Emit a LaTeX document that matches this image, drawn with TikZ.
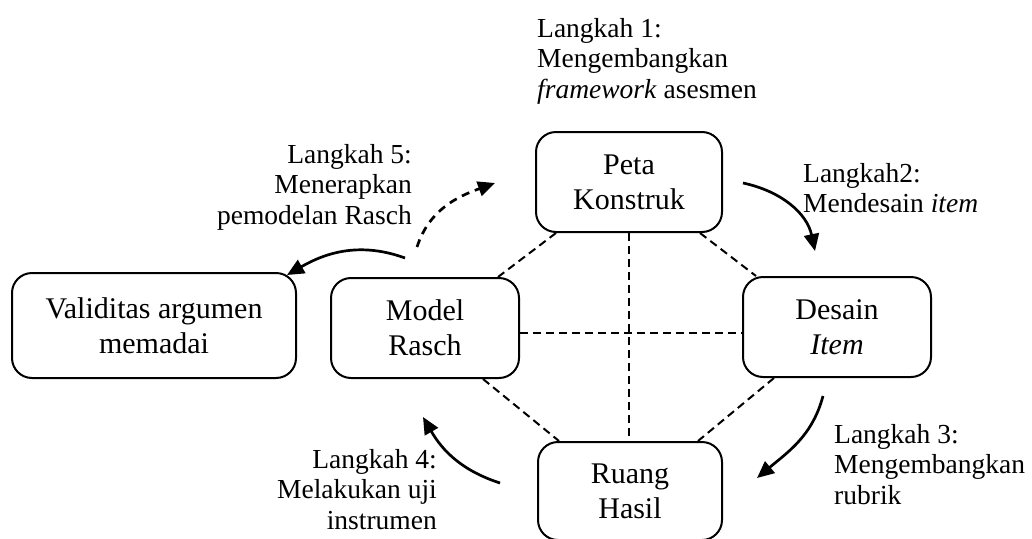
\documentclass[tikz,border=0pt]{standalone}
\usepackage{fontspec}
\setmainfont{Liberation Serif}
\usetikzlibrary{arrows.meta}
\begin{document}
\begin{tikzpicture}[x=1pt,y=-1pt,
  box/.style={draw, line width=2pt, rounded corners=20pt, minimum width=187pt, minimum height=100pt, inner sep=0pt, align=center, font=\fontsize{30}{35}\selectfont},
  note/.style={inner sep=0pt, font=\fontsize{27.5}{30.5}\selectfont},
  link/.style={line width=2pt, dash pattern=on 8pt off 5pt},
  flow/.style={line width=2.7pt, -{Triangle[length=17pt,width=15pt]}},
  dflow/.style={flow, dash pattern=on 8pt off 6pt},
]
\useasboundingbox (0,0) rectangle (1032,538);

% boxes
\node[box, minimum width=186pt] (peta) at (629,182) {Peta\\Konstruk};
\node[box, minimum width=188pt] (model) at (425,328) {Model\\Rasch};
\node[box, minimum width=188pt] (desain) at (837,327) {Desain\\\textit{Item}};
\node[box, minimum width=184pt, minimum height=98pt] (ruang) at (630,491) {Ruang\\Hasil};
\node[box, minimum width=284pt, minimum height=105pt] (valid) at (154,325.5) {Validitas argumen\\memadai};

% dashed links
\draw[link] (peta.south) -- (peta.south |- ruang.north);
\draw[link] ([yshift=-5pt]model.east) -- ([yshift=-5pt]model.east -| desain.west);
\draw[link] ([xshift=21pt]peta.south west) -- ([xshift=-22pt]model.north east);
\draw[link] ([xshift=-23pt]peta.south east) -- ([xshift=14pt]desain.north west);
\draw[link] ([xshift=32pt]desain.south west) -- ([xshift=-25pt]ruang.north east);
\draw[link] ([xshift=-37pt]model.south east) -- ([xshift=22pt]ruang.north west);

% step labels
\node[note, anchor=north west, align=left] (l1) at (537,18) {Langkah 1:\\Mengembangkan\\\textit{framework} asesmen};
\node[note, anchor=north west, align=left] (l2) at (803,163) {Langkah2:\\Mendesain \textit{item}};
\node[note, anchor=north west, align=left] (l3) at (834,424) {Langkah 3:\\Mengembangkan\\rubrik};
\node[note, anchor=north east, align=right] (l4) at (437,449) {Langkah 4:\\Melakukan uji\\instrumen};
\node[note, anchor=north east, align=right] (l5) at (412,144) {Langkah 5:\\Menerapkan\\pemodelan Rasch};

% arrow ends
\coordinate (s2) at (743,183); \coordinate (e2) at (815,251);
\coordinate (s3) at (823,396); \coordinate (e3) at (757,478);
\coordinate (s4) at (500,483); \coordinate (e4) at (423,417);
\coordinate (s5) at (405,258); \coordinate (e5) at (287,275);
\coordinate (sd) at (417,247); \coordinate (ed) at (495,183);

\draw[flow] (s2) to[out=-12,in=102] (e2);
\draw[flow] (s3) to[out=-105,in=40] (e3);
\draw[flow] (s4) to[out=162,in=-60] (e4);
\draw[flow] (s5) to[out=160,in=30] (e5);
\draw[dflow] (sd) to[out=72,in=200] (ed);
\end{tikzpicture}
\end{document}
